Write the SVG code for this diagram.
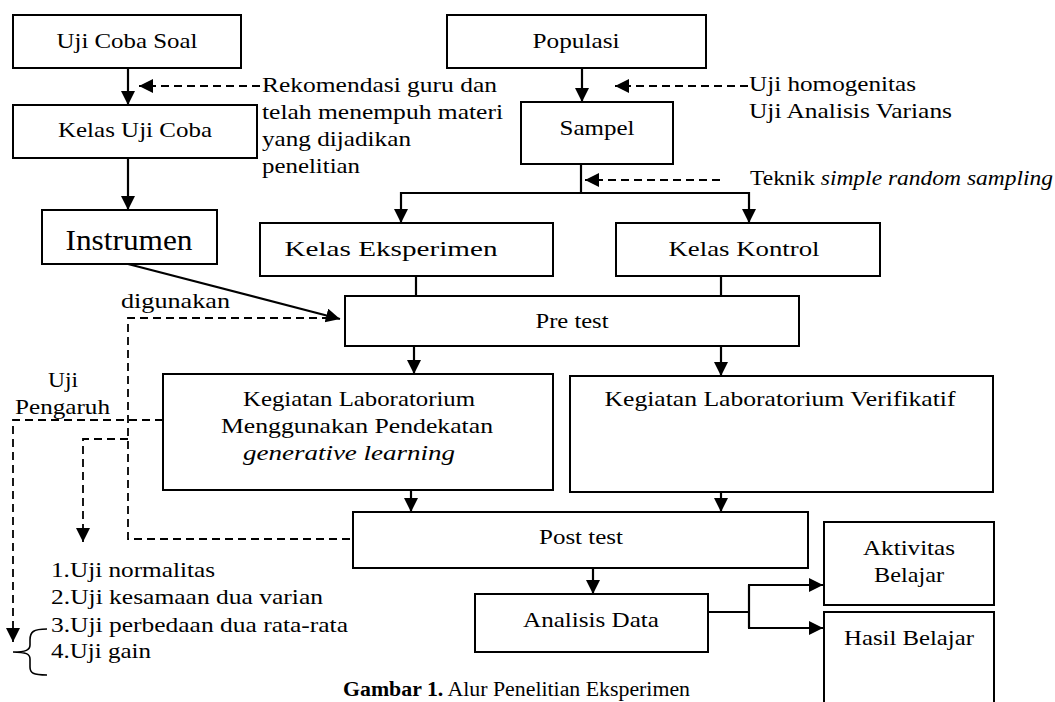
<svg xmlns="http://www.w3.org/2000/svg" width="1055" height="702" viewBox="0 0 1055 702">
<style>
text{font-family:"Liberation Serif","Times New Roman",serif;font-size:22px;fill:#000}
.box{fill:#fff;stroke:#000;stroke-width:2}
.ln{fill:none;stroke:#000;stroke-width:2.2}
.ds{fill:none;stroke:#000;stroke-width:1.8;stroke-dasharray:8 5}
.it{font-style:italic}
</style>
<defs>
<marker id="ah" markerUnits="userSpaceOnUse" markerWidth="16" markerHeight="16" refX="14" refY="7" orient="auto">
<path d="M0,0 L14,7 L0,14 z" fill="#000"/>
</marker>
</defs>
<rect width="1055" height="702" fill="#fff"/>
<g id="connectors">
<line class="ln" x1="128" y1="68" x2="128" y2="105" marker-end="url(#ah)"/>
<line class="ln" x1="128" y1="158" x2="128" y2="210" marker-end="url(#ah)"/>
<line class="ds" x1="260" y1="86" x2="139" y2="86" marker-end="url(#ah)"/>
<line class="ln" x1="582" y1="68" x2="582" y2="102" marker-end="url(#ah)"/>
<line class="ds" x1="748" y1="86" x2="615" y2="86" marker-end="url(#ah)"/>
<polyline class="ln" points="581,164 581,193"/>
<polyline class="ln" points="401,193 749,193"/>
<line class="ln" x1="401" y1="192" x2="401" y2="223" marker-end="url(#ah)"/>
<line class="ln" x1="749" y1="192" x2="749" y2="223" marker-end="url(#ah)"/>
<line class="ds" x1="720" y1="180" x2="585" y2="180" marker-end="url(#ah)"/>
<line class="ln" x1="128" y1="264" x2="340" y2="319" marker-end="url(#ah)"/>
<polyline class="ds" points="330,318 128,318 128,539 353,539"/>
<line class="ln" x1="416" y1="276" x2="416" y2="296"/>
<line class="ln" x1="721" y1="276" x2="721" y2="296"/>
<line class="ln" x1="414" y1="346" x2="414" y2="374" marker-end="url(#ah)"/>
<line class="ln" x1="721" y1="346" x2="721" y2="376" marker-end="url(#ah)"/>
<polyline class="ds" points="163,420 13,420 13,642" marker-end="url(#ah)"/>
<polyline class="ds" points="128,439 83,439 83,542" marker-end="url(#ah)"/>
<line class="ln" x1="411" y1="490" x2="411" y2="512" marker-end="url(#ah)"/>
<line class="ln" x1="721" y1="492" x2="721" y2="512" marker-end="url(#ah)"/>
<line class="ln" x1="593" y1="568" x2="593" y2="594" marker-end="url(#ah)"/>
<polyline class="ln" points="708,612 749,612"/>
<polyline class="ln" points="749,585 749,628"/>
<line class="ln" x1="748" y1="585" x2="823" y2="585" marker-end="url(#ah)"/>
<line class="ln" x1="748" y1="628" x2="823" y2="628" marker-end="url(#ah)"/>
<path class="ln" style="stroke-width:1.6" d="M47,629 C33,629 30,632 30,640 L30,645 C30,650 26,652 13,652 C26,652 30,654 30,659 L30,667 C30,673 33,675 47,675"/>
</g>
<g id="n-ujicoba"><rect class="box" x="13" y="15" width="228" height="53"/><text x="127" y="48" text-anchor="middle" textLength="141" lengthAdjust="spacingAndGlyphs">Uji Coba Soal</text></g>
<g id="n-kelasujicoba"><rect class="box" x="13" y="105" width="244" height="53"/><text x="135" y="137" text-anchor="middle" textLength="154" lengthAdjust="spacingAndGlyphs">Kelas Uji Coba</text></g>
<g id="n-instrumen"><rect class="box" x="42" y="210" width="175" height="54"/><text x="129" y="250" text-anchor="middle" style="font-size:29px" textLength="127" lengthAdjust="spacingAndGlyphs">Instrumen</text></g>
<g id="n-rekomendasi">
<text x="262" y="92" textLength="235" lengthAdjust="spacingAndGlyphs">Rekomendasi guru dan</text>
<text x="262" y="119" textLength="241" lengthAdjust="spacingAndGlyphs">telah menempuh materi</text>
<text x="262" y="146" textLength="149" lengthAdjust="spacingAndGlyphs">yang dijadikan</text>
<text x="262" y="173" textLength="98" lengthAdjust="spacingAndGlyphs">penelitian</text>
</g>
<g id="n-populasi"><rect class="box" x="447" y="15" width="259" height="53"/><text x="576" y="48" text-anchor="middle" textLength="87" lengthAdjust="spacingAndGlyphs">Populasi</text></g>
<g id="n-sampel"><rect class="box" x="521" y="102" width="152" height="62"/><text x="597" y="135" text-anchor="middle" textLength="75" lengthAdjust="spacingAndGlyphs">Sampel</text></g>
<g id="n-homogen">
<text x="749" y="91" textLength="167" lengthAdjust="spacingAndGlyphs">Uji homogenitas</text>
<text x="749" y="118" textLength="203" lengthAdjust="spacingAndGlyphs">Uji Analisis Varians</text>
</g>
<g id="n-teknik"><text x="750" y="185" textLength="303" lengthAdjust="spacingAndGlyphs">Teknik <tspan class="it">simple random sampling</tspan></text></g>
<g id="n-eksperimen"><rect class="box" x="260" y="223" width="293" height="53"/><text x="391" y="256" text-anchor="middle" textLength="213" lengthAdjust="spacingAndGlyphs">Kelas Eksperimen</text></g>
<g id="n-kontrol"><rect class="box" x="616" y="223" width="264" height="53"/><text x="744" y="256" text-anchor="middle" textLength="151" lengthAdjust="spacingAndGlyphs">Kelas Kontrol</text></g>
<g id="n-digunakan"><text x="121" y="308" textLength="109" lengthAdjust="spacingAndGlyphs">digunakan</text></g>
<g id="n-pretest"><rect class="box" x="345" y="296" width="454" height="50"/><text x="572" y="328" text-anchor="middle" textLength="73" lengthAdjust="spacingAndGlyphs">Pre test</text></g>
<g id="n-ujipengaruh">
<text x="48" y="387" textLength="30" lengthAdjust="spacingAndGlyphs">Uji</text>
<text x="15" y="414" textLength="95" lengthAdjust="spacingAndGlyphs">Pengaruh</text>
</g>
<g id="n-keglab"><rect class="box" x="163" y="374" width="390" height="116"/>
<text x="359" y="406" text-anchor="middle" textLength="232" lengthAdjust="spacingAndGlyphs">Kegiatan Laboratorium</text>
<text x="357" y="433" text-anchor="middle" textLength="272" lengthAdjust="spacingAndGlyphs">Menggunakan Pendekatan</text>
<text x="349" y="460" text-anchor="middle" class="it" textLength="212" lengthAdjust="spacingAndGlyphs">generative learning</text>
</g>
<g id="n-verif"><rect class="box" x="570" y="376" width="423" height="116"/><text x="780" y="406" text-anchor="middle" textLength="351" lengthAdjust="spacingAndGlyphs">Kegiatan Laboratorium Verifikatif</text></g>
<g id="n-posttest"><rect class="box" x="353" y="512" width="455" height="56"/><text x="581" y="544" text-anchor="middle" textLength="84" lengthAdjust="spacingAndGlyphs">Post test</text></g>
<g id="n-list">
<text x="51" y="577" textLength="164" lengthAdjust="spacingAndGlyphs">1.Uji normalitas</text>
<text x="51" y="604" textLength="272" lengthAdjust="spacingAndGlyphs">2.Uji kesamaan dua varian</text>
<text x="51" y="632" textLength="297" lengthAdjust="spacingAndGlyphs">3.Uji perbedaan dua rata-rata</text>
<text x="51" y="658" textLength="100" lengthAdjust="spacingAndGlyphs">4.Uji gain</text>
</g>
<g id="n-analisis"><rect class="box" x="475" y="594" width="233" height="58"/><text x="591" y="627" text-anchor="middle" textLength="136" lengthAdjust="spacingAndGlyphs">Analisis Data</text></g>
<g id="n-aktivitas"><rect class="box" x="824" y="522" width="170" height="83"/>
<text x="909" y="555" text-anchor="middle" textLength="92" lengthAdjust="spacingAndGlyphs">Aktivitas</text>
<text x="909" y="582" text-anchor="middle" textLength="70" lengthAdjust="spacingAndGlyphs">Belajar</text>
</g>
<g id="n-hasil"><rect class="box" x="824" y="612" width="170" height="100"/><text x="909" y="645" text-anchor="middle" textLength="130" lengthAdjust="spacingAndGlyphs">Hasil Belajar</text></g>
<g id="caption"><text x="343" y="696" style="font-size:20px" textLength="347" lengthAdjust="spacingAndGlyphs"><tspan font-weight="bold">Gambar 1.</tspan> Alur Penelitian Eksperimen</text></g>
</svg>
